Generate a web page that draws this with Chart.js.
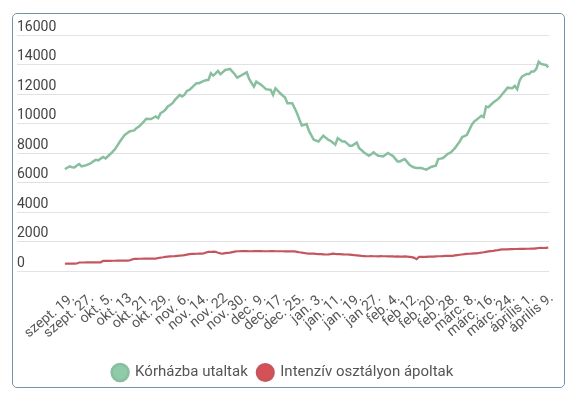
<!DOCTYPE html>
<html>
<head>
<meta charset="UTF-8">
<title>Kórházi adatok</title>
<script src="https://cdn.jsdelivr.net/npm/chart.js@4/dist/chart.umd.min.js"></script>
<style>
  html, body { margin: 0; padding: 0; background: #fff; }
  #wrap { position: relative; width: 575px; height: 407px; }
  #card {
    position: absolute; left: 12px; top: 13px; width: 553px; height: 375px;
    box-sizing: border-box; border: 1.5px solid #7393ad; border-radius: 5px;
    pointer-events: none;
  }
  canvas { position: absolute; left: 0; top: 0; }
</style>
</head>
<body>
<div id="wrap">
  <canvas id="chart" width="575" height="407"></canvas>
  <div id="card"></div>
</div>
<script>
// tick labels, one every 8 data points
const tickLabels = ['szept. 19.', 'szept. 27.', 'okt. 5.', 'okt. 13', 'okt. 21.', 'okt. 29.',
  'nov. 6.', 'nov. 14.', 'nov. 22', 'nov. 30.', 'dec. 9.', 'dec. 17.', 'dec. 25.',
  'jan. 3.', 'jan. 11.', 'jan. 19.', 'jan 27.', 'feb. 4.', 'feb 12.', 'feb. 20.', 'feb. 28.',
  'márc. 8.', 'márc. 16.', 'márc. 24.', 'április 1.', 'április 9.'];

// Kórházba utaltak (daily)
const hospital = [
  6910, 7000, 7090, 7040, 7020, 7150, 7250, 7090, 7130, 7180,
  7250, 7320, 7450, 7540, 7500, 7620, 7730, 7630, 7780, 7930,
  8090, 8270, 8520, 8780, 9000, 9230, 9340, 9460, 9500, 9530,
  9700, 9800, 9960, 10130, 10320, 10310, 10300, 10390, 10470, 10360,
  10700, 10800, 10930, 11150, 11260, 11380, 11600, 11770, 11940, 11830,
  11950, 12210, 12280, 12420, 12580, 12730, 12730, 12810, 12890, 12930,
  12960, 13410, 13250, 13400, 13560, 13340, 13480, 13630, 13660, 13700,
  13520, 13340, 13110, 13200, 13290, 13380, 13470, 13020, 12760, 12500,
  12840, 12730, 12620, 12480, 12330, 12300, 12280, 11940, 12390, 12220,
  12050, 11900, 11760, 11380, 11380, 11380, 11050, 10700, 10280, 9860,
  9910, 9960, 9500, 9200, 8900, 8840, 8780, 8980, 9170, 9040,
  8900, 8830, 8700, 8560, 9010, 8900, 8780, 8780, 8640, 8490,
  8490, 8600, 8710, 8330, 8190, 8040, 7930, 7810, 7920, 8040,
  7920, 7810, 7790, 7770, 7880, 8000, 7900, 7810, 7620, 7430,
  7430, 7510, 7590, 7400, 7200, 7090, 7020, 6980, 6980, 6980,
  6920, 6870, 6960, 7050, 7100, 7140, 7590, 7620, 7660, 7800,
  7950, 8000, 8160, 8330, 8560, 8780, 9080, 9150, 9230, 9570,
  9900, 10130, 10250, 10380, 10520, 10430, 11150, 11110, 11270, 11420,
  11540, 11650, 11830, 12030, 12230, 12430, 12410, 12390, 12550, 12330,
  12900, 13180, 13270, 13360, 13360, 13520, 13520, 13700, 14190, 14040,
  14000, 13970, 13810
];

// Intenzív osztályon ápoltak (daily)
const icu = [
  490, 495, 500, 500, 505, 510, 575, 575, 575, 578,
  580, 580, 582, 585, 585, 590, 690, 690, 690, 692,
  695, 695, 700, 700, 700, 705, 705, 710, 780, 825,
  825, 830, 830, 835, 835, 840, 840, 845, 845, 880,
  910, 930, 955, 980, 990, 1000, 1010, 1030, 1040, 1050,
  1080, 1110, 1140, 1160, 1165, 1170, 1175, 1180, 1200, 1250,
  1300, 1290, 1310, 1300, 1240, 1200, 1180, 1210, 1230, 1250,
  1280, 1310, 1340, 1340, 1345, 1345, 1345, 1340, 1340, 1345,
  1345, 1345, 1345, 1340, 1340, 1340, 1345, 1345, 1340, 1340,
  1340, 1340, 1335, 1335, 1340, 1330, 1330, 1300, 1270, 1250,
  1220, 1190, 1180, 1180, 1180, 1160, 1150, 1140, 1130, 1120,
  1130, 1150, 1180, 1160, 1150, 1140, 1130, 1120, 1120, 1110,
  1090, 1070, 1060, 1040, 1020, 1010, 1000, 1000, 1010, 1000,
  1000, 990, 1010, 1000, 1000, 990, 1000, 990, 980, 990,
  980, 980, 990, 980, 960, 940, 890, 800, 960, 960,
  960, 960, 970, 975, 980, 990, 1000, 1000, 1010, 1020,
  1020, 1025, 1030, 1060, 1080, 1100, 1120, 1140, 1160, 1170,
  1180, 1190, 1200, 1220, 1240, 1270, 1300, 1330, 1350, 1370,
  1400, 1420, 1450, 1460, 1460, 1470, 1480, 1480, 1490, 1490,
  1500, 1500, 1505, 1510, 1510, 1520, 1520, 1540, 1560, 1570,
  1560, 1570, 1580
];

const yTicks = [0, 2000, 4000, 6000, 8000, 10000, 12000, 14000, 16000];

const FONT = 'Roboto, "Noto Sans", sans-serif';
const toPoints = arr => arr.map((v, i) => ({ x: i, y: v }));

new Chart(document.getElementById('chart'), {
  type: 'line',
  data: {
    datasets: [
      {
        label: 'Kórházba utaltak',
        data: toPoints(hospital),
        borderColor: '#88bf9f',
        backgroundColor: '#8fcaa9',
        borderWidth: 2.5,
        pointRadius: 0,
        tension: 0
      },
      {
        label: 'Intenzív osztályon ápoltak',
        data: toPoints(icu),
        borderColor: '#c4565e',
        backgroundColor: '#d65058',
        borderWidth: 2.2,
        pointRadius: 0,
        tension: 0
      }
    ]
  },
  options: {
    responsive: false,
    animation: false,
    layout: { padding: { left: 17, right: 26, top: 35, bottom: 17 } },
    plugins: {
      tooltip: { enabled: false },
      legend: {
        position: 'bottom',
        labels: {
          usePointStyle: true,
          pointStyle: 'circle',
          boxWidth: 15,
          boxHeight: 12,
          color: '#555',
          font: { family: FONT, size: 15 }
        }
      }
    },
    scales: {
      x: {
        type: 'linear',
        min: -20,
        max: 202.3,
        grid: { display: false },
        border: { display: false },
        afterBuildTicks: axis => { axis.ticks = tickLabels.map((_, i) => ({ value: i * 8 })); },
        afterFit: axis => { axis.height = 84; },
        ticks: {
          autoSkip: false,
          minRotation: 40,
          maxRotation: 40,
          padding: 11,
          labelOffset: 8,
          color: '#555',
          font: { family: FONT, size: 14 },
          callback: (v, i) => tickLabels[i]
        }
      },
      y: {
        min: 0,
        max: 16000,
        afterBuildTicks: axis => { axis.ticks = yTicks.map(v => ({ value: v })); },
        grid: { color: '#e2e2e2', drawTicks: false },
        border: { display: false },
        ticks: {
          mirror: true,
          padding: 0,
          labelOffset: -8,
          color: '#444',
          font: { family: FONT, size: 14 },
          callback: v => String(v)
        }
      }
    }
  }
});
</script>
</body>
</html>
